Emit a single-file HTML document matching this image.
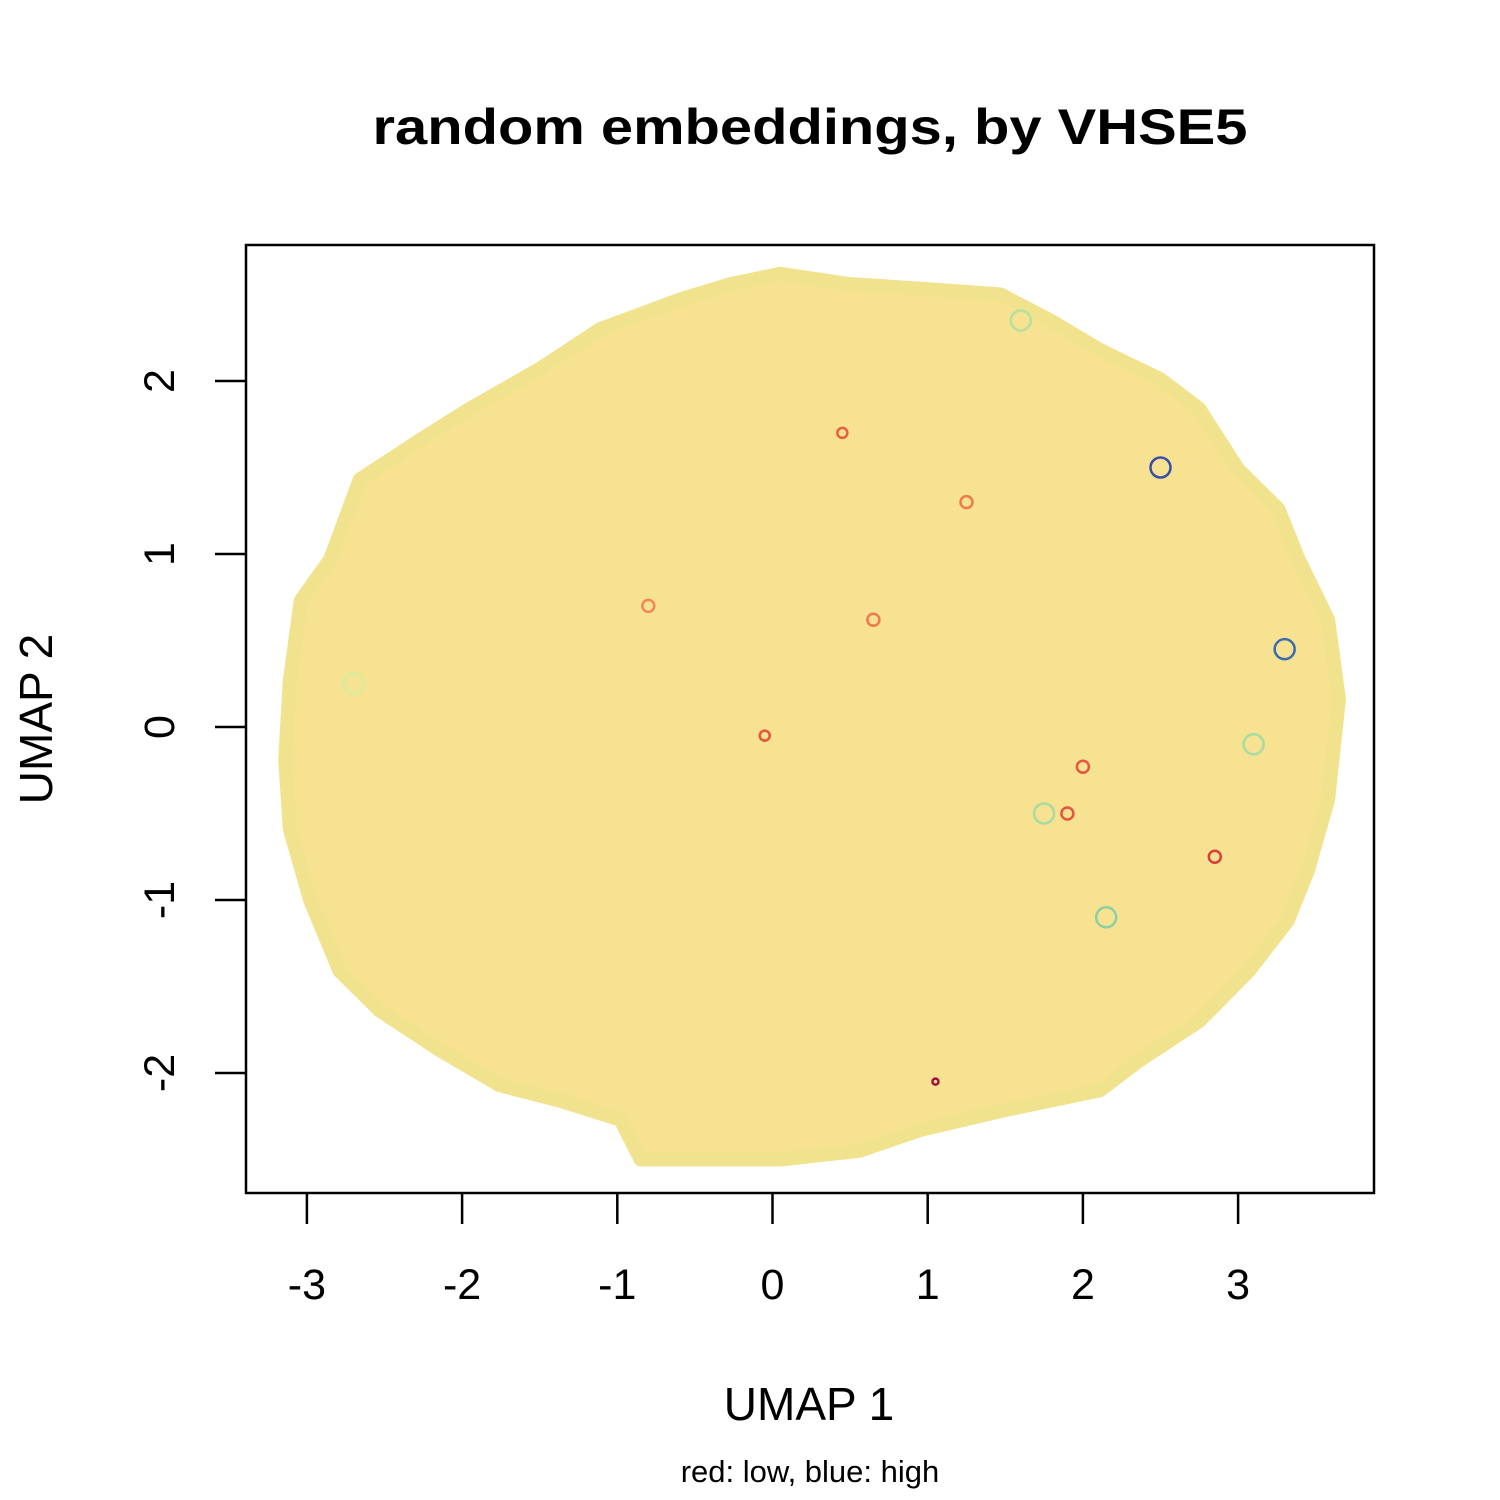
<!DOCTYPE html>
<html><head><meta charset="utf-8">
<style>
html,body{margin:0;padding:0;background:#fff;}
svg{display:block;font-family:"Liberation Sans",sans-serif;}
</style></head>
<body>
<svg id="chart" width="1500" height="1500" viewBox="0 0 1500 1500">
<rect width="1500" height="1500" fill="#fff"/>
<text x="810" y="144" text-anchor="middle" font-size="50" font-weight="bold" textLength="875" lengthAdjust="spacingAndGlyphs">random embeddings, by VHSE5</text>
<g id="plot"></g>
<rect x="246" y="245" width="1128" height="948" fill="none" stroke="#000" stroke-width="2.5"/>
<g id="xaxis"></g>
<g id="yaxis"></g>
<text x="809" y="1420" text-anchor="middle" font-size="46">UMAP 1</text>
<text transform="translate(52,719) rotate(-90)" text-anchor="middle" font-size="46">UMAP 2</text>
<text x="810" y="1482" text-anchor="middle" font-size="31">red: low, blue: high</text>
</svg>
<script>
const xTicks = [-3,-2,-1,0,1,2,3];
const yTicks = [-2,-1,0,1,2];
const boundaryX = [-3.11,-3.04,-2.85,-2.66,-2.27,-1.95,-1.50,-1.11,-0.60,-0.27,0.05,0.50,1.02,1.47,1.79,2.11,2.50,2.75,3.00,3.26,3.39,3.58,3.65,3.58,3.45,3.32,3.07,2.75,2.36,2.11,1.47,0.95,0.56,0.05,-0.47,-0.85,-0.98,-1.37,-1.76,-2.14,-2.53,-2.79,-2.98,-3.11,-3.14];
const boundaryY = [0.27,0.73,0.97,1.43,1.66,1.84,2.07,2.30,2.47,2.56,2.62,2.56,2.53,2.50,2.35,2.18,2.01,1.84,1.49,1.26,0.97,0.62,0.16,-0.42,-0.83,-1.12,-1.41,-1.70,-1.93,-2.10,-2.22,-2.33,-2.45,-2.50,-2.50,-2.50,-2.27,-2.16,-2.07,-1.87,-1.64,-1.41,-1.00,-0.59,-0.19];
const pointX = [2.50,3.30,1.25,1.90,2.00,2.85,-0.05,0.65,-0.80,1.75,3.10,1.60,2.15,-2.70,0.45,1.05];
const pointY = [1.50,0.45,1.30,-0.50,-0.23,-0.75,-0.05,0.62,0.70,-0.50,-0.10,2.35,-1.10,0.25,1.70,-2.05];
const pointColor = ["#3b4fa8","#3b6cb0","#f07a4a","#e5553f","#e8553f","#d9403c","#e5553f","#f07a4a","#f08a55","#a9dba4","#a9dba4","#b5e0a0","#8ccfa4","#d8ec9c","#e86040","#a01040"];
const pointR = [10,10,6,6,6,6,5,6,6,10,10,10,10,10,5,3];

const sx = v => 772.5 + v*155.2;
const sy = v => 727 - v*173;
const NS = "http://www.w3.org/2000/svg";
const plot = document.getElementById('plot');

let d = "";
for (let i=0;i<boundaryX.length;i++) d += (i?"L":"M") + sx(boundaryX[i]) + "," + sy(boundaryY[i]);
d += "Z";
const cloud = document.createElementNS(NS,'path');
cloud.setAttribute('d', d);
cloud.setAttribute('fill', '#f6e291');
cloud.setAttribute('stroke', '#f1e38e');
cloud.setAttribute('stroke-width', '14');
cloud.setAttribute('stroke-linejoin', 'round');


plot.appendChild(cloud);

for (let i=0;i<pointX.length;i++){
  const c = document.createElementNS(NS,'circle');
  c.setAttribute('cx', sx(pointX[i]));
  c.setAttribute('cy', sy(pointY[i]));
  c.setAttribute('r', pointR[i]);
  c.setAttribute('fill', 'none');
  c.setAttribute('stroke', pointColor[i]);
  c.setAttribute('stroke-width', '2.5');
  
  
  plot.appendChild(c);
}

const xa = document.getElementById('xaxis');
xTicks.forEach(t=>{
  const l = document.createElementNS(NS,'line');
  l.setAttribute('x1', sx(t)); l.setAttribute('x2', sx(t));
  l.setAttribute('y1', 1193); l.setAttribute('y2', 1224);
  l.setAttribute('stroke', '#000'); l.setAttribute('stroke-width', '2.5');
  
  
  xa.appendChild(l);
  const tx = document.createElementNS(NS,'text');
  tx.setAttribute('x', sx(t)); tx.setAttribute('y', 1299);
  tx.setAttribute('text-anchor', 'middle'); tx.setAttribute('font-size', '43');
  tx.textContent = t;
  
  
  xa.appendChild(tx);
});
const ya = document.getElementById('yaxis');
yTicks.forEach(t=>{
  const l = document.createElementNS(NS,'line');
  l.setAttribute('x1', 215); l.setAttribute('x2', 246);
  l.setAttribute('y1', sy(t)); l.setAttribute('y2', sy(t));
  l.setAttribute('stroke', '#000'); l.setAttribute('stroke-width', '2.5');
  
  
  ya.appendChild(l);
  const tx = document.createElementNS(NS,'text');
  tx.setAttribute('transform', 'translate(174,' + sy(t) + ') rotate(-90)');
  tx.setAttribute('text-anchor', 'middle'); tx.setAttribute('font-size', '43');
  tx.textContent = t;
  
  
  ya.appendChild(tx);
});
</script>
</body></html>
